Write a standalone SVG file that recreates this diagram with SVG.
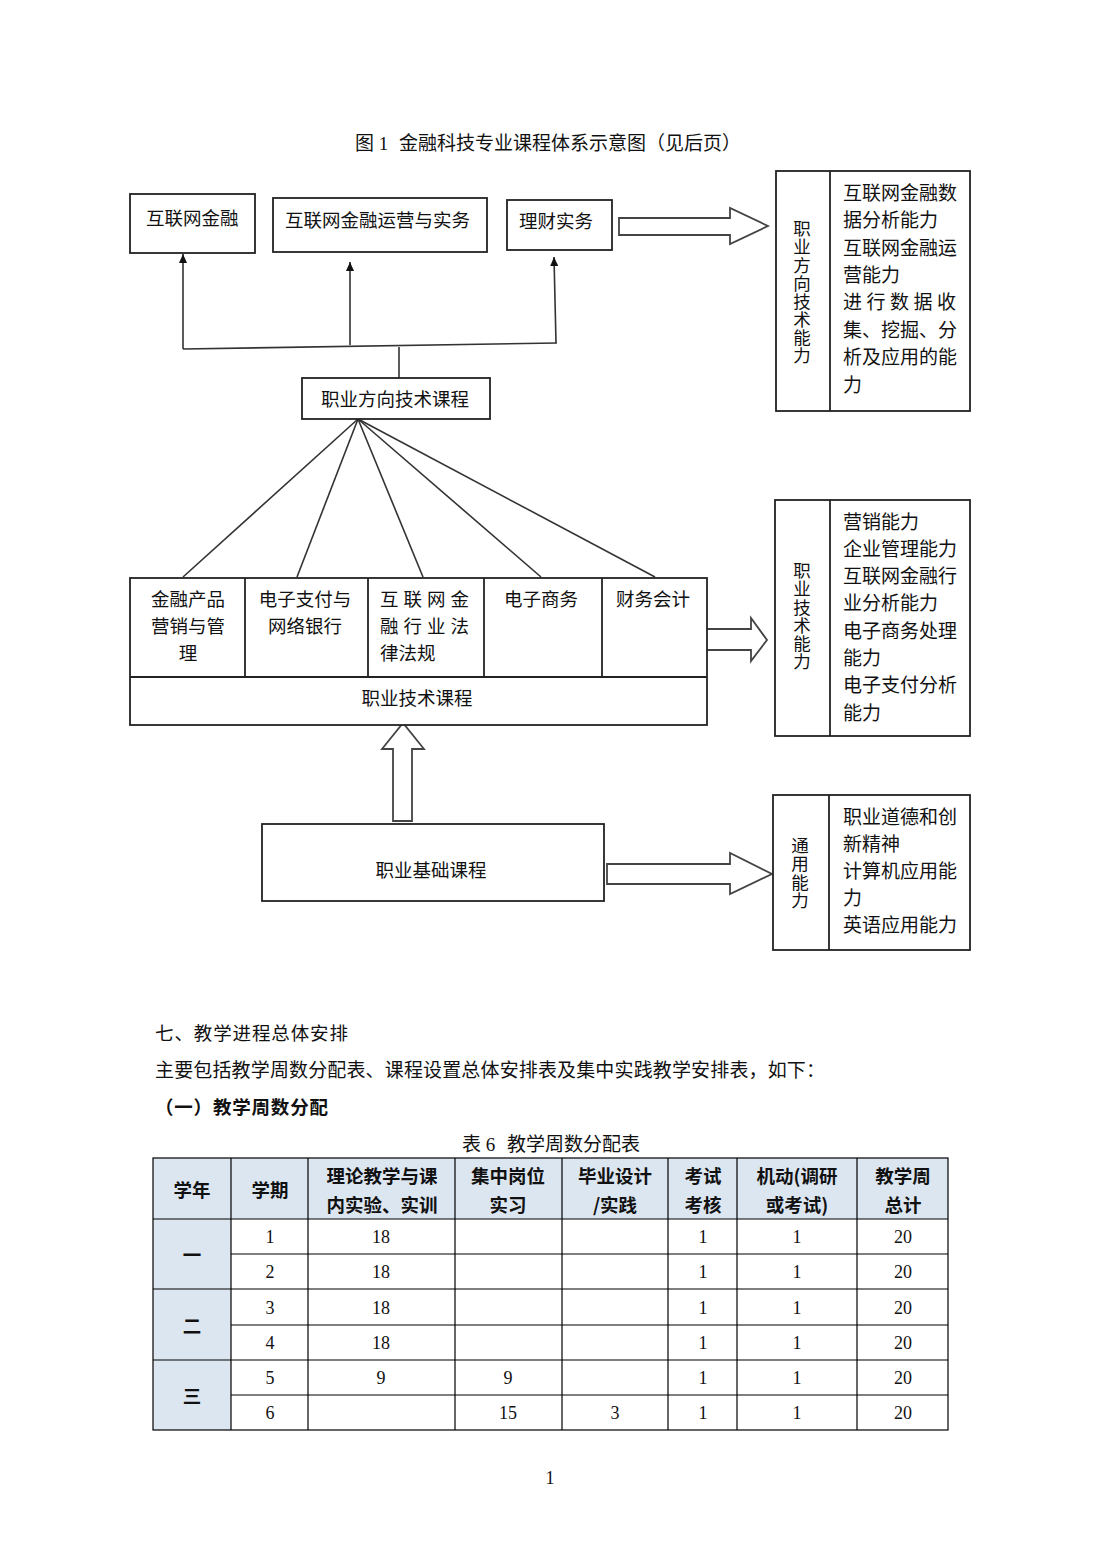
<svg xmlns="http://www.w3.org/2000/svg" width="1102" height="1559" viewBox="0 0 1102 1559">
<defs>
<style>
.bg{fill:#fff}
.box{fill:#fff;stroke:#222;stroke-width:1.8}
.ln{fill:none;stroke:#333;stroke-width:1.6}
.blk{fill:#fff;stroke:#444;stroke-width:1.8;stroke-linejoin:miter}
.t{font-family:"Noto Sans CJK SC","Liberation Sans",sans-serif;font-size:18.5px;fill:#111;dominant-baseline:central}
.tr{font-family:"Noto Sans CJK SC","Liberation Sans",sans-serif;font-size:19px;fill:#111;dominant-baseline:central}
.tv{font-family:"Noto Sans CJK SC","Liberation Sans",sans-serif;font-size:17.5px;fill:#111;writing-mode:vertical-rl;text-orientation:upright;letter-spacing:0.6px}
.s{font-family:"Liberation Serif","Noto Sans CJK SC",serif;font-size:19px;fill:#111;dominant-baseline:central}
.h{font-family:"Noto Sans CJK SC","Liberation Sans",sans-serif;font-size:18.5px;fill:#111;dominant-baseline:central}
.hb{font-family:"Noto Sans CJK SC","Liberation Sans",sans-serif;font-size:18.5px;font-weight:bold;fill:#111;dominant-baseline:central;text-anchor:middle}
.n{font-family:"Liberation Serif","Noto Sans CJK SC",serif;font-size:18px;fill:#111;dominant-baseline:central;text-anchor:middle}
.c{text-anchor:middle}
.th{fill:#dce6f1}
.tl{stroke:#000;stroke-width:1.2;fill:none}
</style>
<marker id="ah" viewBox="0 0 10 10" refX="10" refY="5" markerWidth="9" markerHeight="8" markerUnits="userSpaceOnUse" orient="auto" preserveAspectRatio="none">
<path d="M0,0 L10,5 L0,10 z" fill="#111"/>
</marker>
</defs>
<rect class="bg" x="0" y="0" width="1102" height="1559"/>

<text class="s" y="143"><tspan x="355">图 1</tspan><tspan x="399" textLength="342" lengthAdjust="spacing">金融科技专业课程体系示意图（见后页）</tspan></text>

<g id="connectors">
<line class="ln" x1="183" y1="349" x2="183" y2="254" marker-end="url(#ah)"/>
<line class="ln" x1="350" y1="345" x2="350" y2="262" marker-end="url(#ah)"/>
<line class="ln" x1="556" y1="343" x2="554" y2="257" marker-end="url(#ah)"/>
<line class="ln" x1="183" y1="349" x2="557" y2="343"/>
<line class="ln" x1="399" y1="347" x2="399" y2="378"/>
<line class="ln" x1="358" y1="419" x2="183" y2="577"/>
<line class="ln" x1="358" y1="419" x2="297" y2="577"/>
<line class="ln" x1="358" y1="419" x2="423" y2="577"/>
<line class="ln" x1="358" y1="419" x2="541" y2="577"/>
<line class="ln" x1="358" y1="419" x2="655" y2="577"/>
<polygon class="blk" points="619,218 730,218 730,208 768,226 730,244 730,235 619,235"/>
<polygon class="blk" points="706,629 751,629 751,618 767,640 751,661 751,650 706,650"/>
<polygon class="blk" points="393,821 393,749 382,749 403,723 424,749 412,749 412,821"/>
<polygon class="blk" points="607,864 730,864 730,853 772,874 730,894 730,884 607,884"/>
</g>

<g id="n-hlwjr">
<rect class="box" x="130" y="194" width="125" height="59"/>
<text class="t" x="146" y="217">互联网金融</text>
</g>
<g id="n-yyss">
<rect class="box" x="273" y="198" width="214" height="54"/>
<text class="t" x="285" y="219">互联网金融运营与实务</text>
</g>
<g id="n-lcss">
<rect class="box" x="507" y="200" width="105" height="50"/>
<text class="t" x="519" y="220">理财实务</text>
</g>
<g id="n-zyfx">
<rect class="box" x="302" y="378" width="188" height="41"/>
<text class="t" x="321" y="398">职业方向技术课程</text>
</g>

<g id="n-cap1">
<rect class="box" x="776" y="171" width="194" height="240"/>
<line class="box" x1="830" y1="171" x2="830" y2="411"/>
<text class="tv" x="802" y="220">职业方向技术能力</text>
<text class="tr" x="843" y="191">互联网金融数</text>
<text class="tr" x="843" y="218.5">据分析能力</text>
<text class="tr" x="843" y="246">互联网金融运</text>
<text class="tr" x="843" y="273">营能力</text>
<text class="tr" x="843" y="300.5" textLength="113" lengthAdjust="spacing">进行数据收</text>
<text class="tr" x="843" y="328">集、挖掘、分</text>
<text class="tr" x="843" y="355.5">析及应用的能</text>
<text class="tr" x="843" y="383">力</text>
</g>

<g id="n-courses">
<rect class="box" x="130" y="578" width="577" height="147"/>
<line class="box" x1="130" y1="677" x2="707" y2="677"/>
<line class="box" x1="245" y1="578" x2="245" y2="677"/>
<line class="box" x1="368" y1="578" x2="368" y2="677"/>
<line class="box" x1="484" y1="578" x2="484" y2="677"/>
<line class="box" x1="602" y1="578" x2="602" y2="677"/>
<text class="t c" x="188" y="598">金融产品</text>
<text class="t c" x="188" y="625">营销与管</text>
<text class="t c" x="188" y="652">理</text>
<text class="t c" x="305" y="598">电子支付与</text>
<text class="t c" x="305" y="625">网络银行</text>
<text class="t" x="380" y="598" textLength="89" lengthAdjust="spacing">互联网金</text>
<text class="t" x="380" y="625" textLength="89" lengthAdjust="spacing">融行业法</text>
<text class="t" x="380" y="652">律法规</text>
<text class="t c" x="541" y="598">电子商务</text>
<text class="t c" x="653" y="598">财务会计</text>
<text class="t c" x="417" y="697">职业技术课程</text>
</g>

<g id="n-cap2">
<rect class="box" x="775" y="500" width="195" height="236"/>
<line class="box" x1="830" y1="500" x2="830" y2="736"/>
<text class="tv" x="802" y="562">职业技术能力</text>
<text class="tr" x="843" y="520">营销能力</text>
<text class="tr" x="843" y="547.3">企业管理能力</text>
<text class="tr" x="843" y="574.6">互联网金融行</text>
<text class="tr" x="843" y="601.9">业分析能力</text>
<text class="tr" x="843" y="629.2">电子商务处理</text>
<text class="tr" x="843" y="656.5">能力</text>
<text class="tr" x="843" y="683.8">电子支付分析</text>
<text class="tr" x="843" y="711.1">能力</text>
</g>

<g id="n-base">
<rect class="box" x="262" y="824" width="342" height="77"/>
<text class="t c" x="431" y="869">职业基础课程</text>
</g>

<g id="n-cap3">
<rect class="box" x="773" y="795" width="197" height="155"/>
<line class="box" x1="829" y1="795" x2="829" y2="950"/>
<text class="tv" x="800" y="837">通用能力</text>
<text class="tr" x="843" y="815">职业道德和创</text>
<text class="tr" x="843" y="842">新精神</text>
<text class="tr" x="843" y="869">计算机应用能</text>
<text class="tr" x="843" y="896">力</text>
<text class="tr" x="843" y="923">英语应用能力</text>
</g>

<text class="h" x="155" y="1032" textLength="193" lengthAdjust="spacing">七、教学进程总体安排</text>
<text class="s" x="155" y="1070" textLength="670" lengthAdjust="spacing">主要包括教学周数分配表、课程设置总体安排表及集中实践教学安排表，如下：</text>
<text class="h" x="155" y="1106" font-weight="bold" textLength="173" lengthAdjust="spacing">（一）教学周数分配</text>
<text class="s" y="1144" font-size="18px"><tspan x="462">表 6</tspan><tspan x="507" textLength="133" lengthAdjust="spacing">教学周数分配表</tspan></text>

<g id="table">
<rect class="th" x="153" y="1158" width="795" height="61"/>
<rect class="th" x="153" y="1219" width="78" height="211"/>
<rect class="tl" x="153" y="1158" width="795" height="272"/>
<line class="tl" x1="153" y1="1219" x2="948" y2="1219"/>
<line class="tl" x1="231" y1="1254" x2="948" y2="1254"/>
<line class="tl" x1="153" y1="1289" x2="948" y2="1289"/>
<line class="tl" x1="231" y1="1325" x2="948" y2="1325"/>
<line class="tl" x1="153" y1="1360" x2="948" y2="1360"/>
<line class="tl" x1="231" y1="1395" x2="948" y2="1395"/>
<line class="tl" x1="231" y1="1158" x2="231" y2="1430"/>
<line class="tl" x1="308" y1="1158" x2="308" y2="1430"/>
<line class="tl" x1="455" y1="1158" x2="455" y2="1430"/>
<line class="tl" x1="562" y1="1158" x2="562" y2="1430"/>
<line class="tl" x1="668" y1="1158" x2="668" y2="1430"/>
<line class="tl" x1="737" y1="1158" x2="737" y2="1430"/>
<line class="tl" x1="857" y1="1158" x2="857" y2="1430"/>

<text class="hb" x="192" y="1189">学年</text>
<text class="hb" x="270" y="1189">学期</text>
<text class="hb" x="382" y="1175">理论教学与课</text>
<text class="hb" x="382" y="1204">内实验、实训</text>
<text class="hb" x="508" y="1175">集中岗位</text>
<text class="hb" x="508" y="1204">实习</text>
<text class="hb" x="615" y="1175">毕业设计</text>
<text class="hb" x="615" y="1204">/实践</text>
<text class="hb" x="703" y="1175">考试</text>
<text class="hb" x="703" y="1204">考核</text>
<text class="hb" x="797" y="1175">机动(调研</text>
<text class="hb" x="797" y="1204">或考试)</text>
<text class="hb" x="903" y="1175">教学周</text>
<text class="hb" x="903" y="1204">总计</text>

<text class="hb" x="192" y="1254">一</text>
<text class="hb" x="192" y="1325">二</text>
<text class="hb" x="192" y="1395">三</text>

<text class="n" x="270" y="1237">1</text><text class="n" x="381" y="1237">18</text><text class="n" x="703" y="1237">1</text><text class="n" x="797" y="1237">1</text><text class="n" x="903" y="1237">20</text>
<text class="n" x="270" y="1272">2</text><text class="n" x="381" y="1272">18</text><text class="n" x="703" y="1272">1</text><text class="n" x="797" y="1272">1</text><text class="n" x="903" y="1272">20</text>
<text class="n" x="270" y="1308">3</text><text class="n" x="381" y="1308">18</text><text class="n" x="703" y="1308">1</text><text class="n" x="797" y="1308">1</text><text class="n" x="903" y="1308">20</text>
<text class="n" x="270" y="1343">4</text><text class="n" x="381" y="1343">18</text><text class="n" x="703" y="1343">1</text><text class="n" x="797" y="1343">1</text><text class="n" x="903" y="1343">20</text>
<text class="n" x="270" y="1378">5</text><text class="n" x="381" y="1378">9</text><text class="n" x="508" y="1378">9</text><text class="n" x="703" y="1378">1</text><text class="n" x="797" y="1378">1</text><text class="n" x="903" y="1378">20</text>
<text class="n" x="270" y="1413">6</text><text class="n" x="508" y="1413">15</text><text class="n" x="615" y="1413">3</text><text class="n" x="703" y="1413">1</text><text class="n" x="797" y="1413">1</text><text class="n" x="903" y="1413">20</text>
</g>

<text class="n" x="550" y="1478" font-size="13px">1</text>
</svg>
